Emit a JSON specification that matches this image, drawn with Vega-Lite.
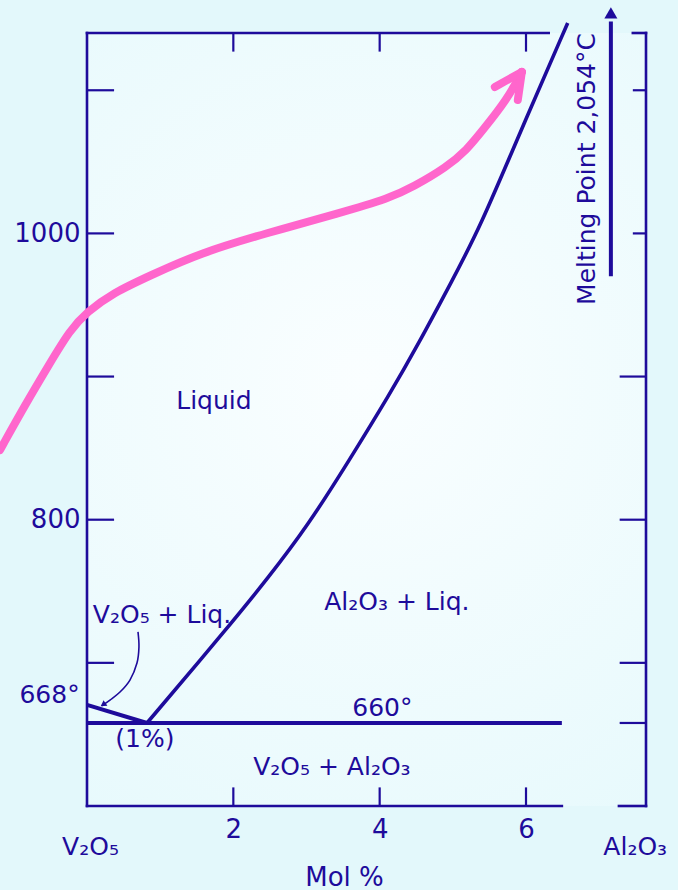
{
  "$schema": "https://vega.github.io/schema/vega-lite/v6.json",
  "width": 559,
  "height": 773,
  "autosize": {"type": "none"},
  "padding": {"left": 87, "top": 33, "right": 32, "bottom": 84},
  "background": "#e3f8fb",
  "config": {
    "view": {"stroke": null, "fill": {"gradient": "radial", "x1": 0.5, "y1": 0.45, "r1": 0, "x2": 0.5, "y2": 0.45, "r2": 0.75, "stops": [{"offset": 0, "color": "#fafeff"}, {"offset": 1, "color": "#e5f9fc"}]}},
    "font": "DejaVu Sans",
    "text": {"font": "DejaVu Sans"}
  },
  "datasets": {
    "frame": [
      {"x": 0, "y": 600, "x2": 0, "y2": 1140},
      {"x": 0, "y": 1140, "x2": 6.31, "y2": 1140},
      {"x": 0, "y": 600, "x2": 6.49, "y2": 600},
      {"x": 7.46, "y": 1140, "x2": 7.64, "y2": 1140},
      {"x": 7.27, "y": 600, "x2": 7.64, "y2": 600},
      {"x": 7.64, "y": 600, "x2": 7.64, "y2": 1140}
    ],
    "ticks": [
      {"x": 0, "y": 700, "x2": 0.37, "y2": 700},
      {"x": 0, "y": 800, "x2": 0.37, "y2": 800},
      {"x": 0, "y": 900, "x2": 0.37, "y2": 900},
      {"x": 0, "y": 1000, "x2": 0.37, "y2": 1000},
      {"x": 0, "y": 1100, "x2": 0.37, "y2": 1100},
      {"x": 2, "y": 1140, "x2": 2, "y2": 1127},
      {"x": 4, "y": 1140, "x2": 4, "y2": 1127},
      {"x": 6, "y": 1140, "x2": 6, "y2": 1127},
      {"x": 2, "y": 600, "x2": 2, "y2": 613},
      {"x": 4, "y": 600, "x2": 4, "y2": 613},
      {"x": 6, "y": 600, "x2": 6, "y2": 613},
      {"x": 7.28, "y": 900, "x2": 7.64, "y2": 900},
      {"x": 7.28, "y": 800, "x2": 7.64, "y2": 800},
      {"x": 7.28, "y": 700, "x2": 7.64, "y2": 700},
      {"x": 7.28, "y": 658, "x2": 7.64, "y2": 658},
      {"x": 7.46, "y": 1100, "x2": 7.64, "y2": 1100},
      {"x": 7.46, "y": 1000, "x2": 7.64, "y2": 1000}
    ],
    "phase": [
      {"x": 0, "y": 658, "x2": 6.49, "y2": 658},
      {"x": 0, "y": 670.6, "x2": 0.82, "y2": 658}
    ],
    "liquidus": [
      {"x": 0.82, "y": 658},
      {"x": 1.93, "y": 725},
      {"x": 2.47, "y": 759},
      {"x": 3.02, "y": 796},
      {"x": 3.59, "y": 842},
      {"x": 4.14, "y": 888},
      {"x": 4.51, "y": 921},
      {"x": 4.99, "y": 967},
      {"x": 5.37, "y": 1004},
      {"x": 5.93, "y": 1072},
      {"x": 6.57, "y": 1147}
    ],
    "pink": [
      {"i": 1, "x": -1.189, "y": 848.7},
      {"i": 2, "x": -0.847, "y": 880.1},
      {"i": 3, "x": -0.505, "y": 909.5},
      {"i": 4, "x": -0.232, "y": 932.5},
      {"i": 5, "x": 0, "y": 945.1},
      {"i": 6, "x": 0.355, "y": 958.4},
      {"i": 7, "x": 0.861, "y": 970.5},
      {"i": 8, "x": 1.544, "y": 986.3},
      {"i": 9, "x": 2.459, "y": 1000.3},
      {"i": 10, "x": 3.456, "y": 1014.3},
      {"i": 11, "x": 4.139, "y": 1024.7},
      {"i": 12, "x": 4.454, "y": 1032.4},
      {"i": 13, "x": 4.918, "y": 1046.4},
      {"i": 14, "x": 5.191, "y": 1058.3},
      {"i": 15, "x": 5.41, "y": 1072.2},
      {"i": 16, "x": 5.738, "y": 1093.2},
      {"i": 17, "x": 5.943, "y": 1112.8}
    ],
    "pinkhead": [
      {"x": 5.574, "y": 1102.3, "x2": 5.943, "y2": 1112.8},
      {"x": 5.943, "y": 1112.8, "x2": 5.888, "y2": 1093.2}
    ],
    "pointer": [
      {"i": 1, "x": 0.697, "y": 721.6},
      {"i": 2, "x": 0.71, "y": 711.1},
      {"i": 3, "x": 0.683, "y": 699.9},
      {"i": 4, "x": 0.587, "y": 688},
      {"i": 5, "x": 0.451, "y": 679.6},
      {"i": 6, "x": 0.314, "y": 674},
      {"i": 7, "x": 0.2, "y": 670}
    ],
    "pointerhead": [{"x": 0.22, "y": 670.8}],
    "mparrow": [{"x": 7.16, "y": 970, "x2": 7.16, "y2": 1148}],
    "mphead": [{"x": 7.16, "y": 1154}],
    "labels": [
      {"x": 1.735, "y": 877.3, "t": "Liquid"},
      {"x": 4.235, "y": 736.9, "t": "Al₂O₃ + Liq."},
      {"x": 4.037, "y": 662.9, "t": "660°"},
      {"x": 3.347, "y": 621.7, "t": "V₂O₅ + Al₂O₃"},
      {"x": 0.792, "y": 641.2, "t": "(1%)"},
      {"x": 1.025, "y": 727.8, "t": "V₂O₅ + Liq."},
      {"x": -0.512, "y": 672, "t": "668°"},
      {"x": 0.048, "y": 565.8, "t": "V₂O₅"},
      {"x": 7.493, "y": 565.8, "t": "Al₂O₃"}
    ],
    "mptext": [{"x": 6.94, "y": 1045, "t": "Melting Point 2,054°C"}]
  },
  "layer": [
    {
      "data": {"name": "frame"},
      "mark": {"type": "rule", "color": "#1e0b9b", "strokeWidth": 2.6, "strokeCap": "square"},
      "encoding": {
        "x": {"field": "x", "type": "quantitative", "scale": {"domain": [0, 7.64], "nice": false, "zero": false},
          "axis": {"values": [2, 4, 6], "format": "d", "orient": "bottom", "domain": false, "ticks": false, "grid": false, "labelPadding": 10, "labelFontSize": 26, "labelColor": "#1e0b9b", "labelFont": "DejaVu Sans",
            "title": "Mol %", "titleFontSize": 26, "titleFontWeight": "normal", "titleFont": "DejaVu Sans", "titleColor": "#1e0b9b", "titleX": 257, "titleY": 79, "titleBaseline": "alphabetic", "titleAlign": "center", "titleAnchor": null}},
        "y": {"field": "y", "type": "quantitative", "scale": {"domain": [600, 1140], "nice": false, "zero": false},
          "axis": {"values": [800, 1000], "format": "d", "domain": false, "ticks": false, "grid": false, "labelPadding": 7, "labelFontSize": 26, "labelColor": "#1e0b9b", "labelFont": "DejaVu Sans", "title": null}},
        "x2": {"field": "x2"},
        "y2": {"field": "y2"}
      }
    },
    {
      "data": {"name": "ticks"},
      "mark": {"type": "rule", "color": "#1e0b9b", "strokeWidth": 2.2},
      "encoding": {"x": {"field": "x", "type": "quantitative"}, "y": {"field": "y", "type": "quantitative"}, "x2": {"field": "x2"}, "y2": {"field": "y2"}}
    },
    {
      "data": {"name": "phase"},
      "mark": {"type": "rule", "color": "#1e0b9b", "strokeWidth": 4},
      "encoding": {"x": {"field": "x", "type": "quantitative"}, "y": {"field": "y", "type": "quantitative"}, "x2": {"field": "x2"}, "y2": {"field": "y2"}}
    },
    {
      "data": {"name": "liquidus"},
      "mark": {"type": "line", "color": "#1e0b9b", "strokeWidth": 3.6, "interpolate": "basis"},
      "encoding": {"x": {"field": "x", "type": "quantitative"}, "y": {"field": "y", "type": "quantitative"}}
    },
    {
      "data": {"name": "pointer"},
      "mark": {"type": "line", "color": "#1e0b9b", "strokeWidth": 1.6, "interpolate": "cardinal"},
      "encoding": {"x": {"field": "x", "type": "quantitative"}, "y": {"field": "y", "type": "quantitative"}, "order": {"field": "i", "type": "quantitative"}}
    },
    {
      "data": {"name": "pointerhead"},
      "mark": {"type": "point", "shape": "triangle-up", "filled": true, "color": "#1e0b9b", "size": 45, "angle": 235, "opacity": 1},
      "encoding": {"x": {"field": "x", "type": "quantitative"}, "y": {"field": "y", "type": "quantitative"}}
    },
    {
      "data": {"name": "mparrow"},
      "mark": {"type": "rule", "color": "#1e0b9b", "strokeWidth": 4},
      "encoding": {"x": {"field": "x", "type": "quantitative"}, "y": {"field": "y", "type": "quantitative"}, "x2": {"field": "x2"}, "y2": {"field": "y2"}}
    },
    {
      "data": {"name": "mphead"},
      "mark": {"type": "point", "shape": "triangle-up", "filled": true, "color": "#1e0b9b", "size": 170, "opacity": 1},
      "encoding": {"x": {"field": "x", "type": "quantitative"}, "y": {"field": "y", "type": "quantitative"}}
    },
    {
      "data": {"name": "labels"},
      "mark": {"type": "text", "color": "#1e0b9b", "fontSize": 25, "align": "center", "baseline": "alphabetic", "font": "DejaVu Sans"},
      "encoding": {"x": {"field": "x", "type": "quantitative"}, "y": {"field": "y", "type": "quantitative"}, "text": {"field": "t"}}
    },
    {
      "data": {"name": "mptext"},
      "mark": {"type": "text", "color": "#1e0b9b", "fontSize": 25, "align": "center", "baseline": "alphabetic", "angle": -90, "font": "DejaVu Sans"},
      "encoding": {"x": {"field": "x", "type": "quantitative"}, "y": {"field": "y", "type": "quantitative"}, "text": {"field": "t"}}
    },
    {
      "data": {"name": "pink"},
      "mark": {"type": "line", "color": "#ff66cc", "strokeWidth": 8, "strokeCap": "round", "interpolate": "basis"},
      "encoding": {"x": {"field": "x", "type": "quantitative"}, "y": {"field": "y", "type": "quantitative"}, "order": {"field": "i", "type": "quantitative"}}
    },
    {
      "data": {"name": "pinkhead"},
      "mark": {"type": "rule", "color": "#ff66cc", "strokeWidth": 8, "strokeCap": "round"},
      "encoding": {"x": {"field": "x", "type": "quantitative"}, "y": {"field": "y", "type": "quantitative"}, "x2": {"field": "x2"}, "y2": {"field": "y2"}}
    }
  ]
}
